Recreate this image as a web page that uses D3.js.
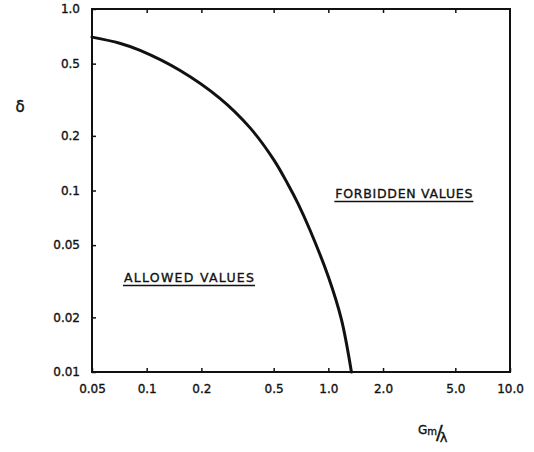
<!DOCTYPE html>
<html>
  <head>
    <meta charset="utf-8">
    <title>delta vs Gm/lambda</title>
    <script src="https://cdn.jsdelivr.net/npm/d3@7/dist/d3.min.js"></script>
    <style>
      body { margin: 0; background: #fff; }
      text { font-family: "DejaVu Sans", sans-serif; fill: #111; stroke: #111; stroke-width: 0.35px; }
    </style>
  </head>
  <body>
    <svg id="chart" width="534" height="452"></svg>
    <script>
      // boundary curve
      var gmLambda = [0.05, 0.071, 0.092, 0.152, 0.253, 0.37, 0.50, 0.60, 0.68, 0.79, 1.0, 1.18, 1.34];
      var delta    = [0.70, 0.648, 0.592, 0.46, 0.322, 0.222, 0.148, 0.108, 0.085, 0.061, 0.0335, 0.0195, 0.010];

      var xTicks = [0.05, 0.1, 0.2, 0.5, 1.0, 2.0, 5.0, 10.0];
      var xTickLabels = ["0.05", "0.1", "0.2", "0.5", "1.0", "2.0", "5.0", "10.0"];
      var yTicks = [1.0, 0.5, 0.2, 0.1, 0.05, 0.02, 0.01];
      var yTickLabels = ["1.0", "0.5", "0.2", "0.1", "0.05", "0.02", "0.01"];

      var regionLabels = [
        {text: "ALLOWED  VALUES", x: 0.075, y: 0.0313, len: 130},
        {text: "FORBIDDEN  VALUES", x: 1.093, y: 0.091, len: 137}
      ];

      var svg = d3.select("#chart");
      var plotL = 92, plotR = 510, plotT = 9, plotB = 372;

      var x = d3.scaleLog().domain([0.05, 10]).range([plotL, plotR]);
      var y = d3.scaleLog().domain([0.01, 1]).range([plotB, plotT]);

      // axes, ticks pointing inward
      var xAxis = d3.axisBottom(x).tickValues(xTicks)
        .tickFormat(function(d, i) { return xTickLabels[i]; })
        .tickSizeInner(-4).tickSizeOuter(0).tickPadding(12);
      var yAxis = d3.axisLeft(y).tickValues(yTicks)
        .tickFormat(function(d, i) { return yTickLabels[i]; })
        .tickSizeInner(-4).tickSizeOuter(0).tickPadding(12);
      var xTop = d3.axisTop(x).tickValues(xTicks.slice(1, -1))
        .tickFormat("").tickSizeInner(-4).tickSizeOuter(0);

      var gx = svg.append("g").attr("transform", "translate(0," + plotB + ")").call(xAxis);
      var gy = svg.append("g").attr("transform", "translate(" + plotL + ",0)").call(yAxis);
      var gt = svg.append("g").attr("transform", "translate(0," + plotT + ")").call(xTop);

      [gx, gy, gt].forEach(function(g) {
        g.select(".domain").remove();
        g.selectAll(".tick line").attr("stroke", "#111").attr("stroke-width", 1.5);
        g.selectAll(".tick text").attr("font-size", 12).attr("fill", "#111")
          .style("font-family", "DejaVu Sans, sans-serif");
      });

      // frame
      svg.append("rect")
        .attr("x", plotL).attr("y", plotT)
        .attr("width", plotR - plotL).attr("height", plotB - plotT)
        .attr("fill", "none").attr("stroke", "#111").attr("stroke-width", 2);

      // boundary curve
      var line = d3.line()
        .x(function(d, i) { return x(gmLambda[i]); })
        .y(function(d) { return y(d); })
        .curve(d3.curveCatmullRom.alpha(0.5));

      svg.append("path")
        .attr("d", line(delta))
        .attr("fill", "none")
        .attr("stroke", "#111")
        .attr("stroke-width", 3)
        .attr("stroke-linecap", "round");

      // region labels with underline
      regionLabels.forEach(function(r) {
        var tx = x(r.x), ty = y(r.y);
        svg.append("text")
          .attr("x", tx).attr("y", ty)
          .attr("font-size", 12.5)
          .attr("textLength", r.len)
          .attr("lengthAdjust", "spacing")
          .text(r.text);
        svg.append("line")
          .attr("x1", tx - 1).attr("x2", tx + r.len + 1)
          .attr("y1", ty + 3.5).attr("y2", ty + 3.5)
          .attr("stroke", "#111").attr("stroke-width", 1.5);
      });

      // axis titles
      svg.append("text")
        .attr("x", 20).attr("y", 112)
        .attr("text-anchor", "middle")
        .attr("font-size", 15)
        .text("δ");

      var xt = svg.append("text")
        .attr("x", 418).attr("y", 433.5)
        .attr("font-size", 12);
      xt.append("tspan").text("G");
      xt.append("tspan").attr("font-size", 10).attr("dy", 1.5).text("m");
      xt.append("tspan").attr("font-size", 20).attr("dy", 4).attr("dx", -1).text("/");
      xt.append("tspan").attr("font-size", 13).attr("dy", 2.5).attr("dx", -3).text("λ");
    </script>
  </body>
</html>
